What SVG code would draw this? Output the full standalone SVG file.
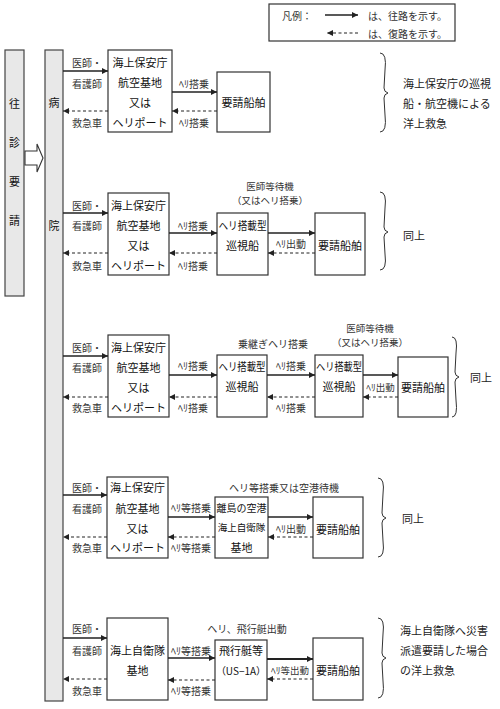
<svg xmlns="http://www.w3.org/2000/svg" width="500" height="709" viewBox="0 0 500 709">
<defs>
<marker id="ah" viewBox="0 0 10 10" refX="10" refY="5" markerWidth="8" markerHeight="6" orient="auto" markerUnits="userSpaceOnUse"><path d="M0,0 L10,5 L0,10 z" fill="#222"/></marker>
<style>
.box{fill:#fff;stroke:#333;stroke-width:1.2}
.bar{fill:#e8e8e8;stroke:#444;stroke-width:1.2}
text{font-family:"Noto Sans CJK JP","Noto Sans",sans-serif;fill:#111;dominant-baseline:central}
.t{font-size:11px;text-anchor:middle}
.l{font-size:10px;fill:#333}
.lc{font-size:10px;fill:#333;text-anchor:middle}
.w{font-size:9.5px}
.r{font-size:11px;fill:#222}
.go{stroke:#222;stroke-width:1.3;fill:none;marker-end:url(#ah)}
.back{stroke:#222;stroke-width:1.2;stroke-dasharray:3 2.5;fill:none;marker-end:url(#ah)}
.brace{stroke:#333;stroke-width:1;fill:none}
</style>
</defs>

<g id="legend">
<rect x="269" y="4" width="186" height="37" fill="#fff" stroke="#333" stroke-width="1.2"/>
<text class="l" x="282" y="15">凡例：</text>
<line class="go" x1="325" y1="15" x2="358" y2="15"/>
<text class="l" x="368" y="15">は、往路を示す。</text>
<line class="back" x1="358" y1="33" x2="327" y2="33"/>
<text class="l" x="368" y="33">は、復路を示す。</text>
</g>

<g id="request">
<rect class="bar" x="5" y="50" width="19" height="246"/>
<text class="t" x="14.5" y="103">往</text>
<text class="t" x="14.5" y="142">診</text>
<text class="t" x="14.5" y="181">要</text>
<text class="t" x="14.5" y="220">請</text>
</g>
<g id="request-arrow">
<path d="M25,151 H37 V144 L43,158 L37,172 V165 H25 Z" fill="#fff" stroke="#333" stroke-width="1.1"/>
</g>
<g id="hospital">
<rect class="bar" x="45" y="50" width="18" height="651"/>
<text class="t" x="54" y="102">病</text>
<text class="t" x="54" y="225">院</text>
</g>

<!-- Row 1 -->
<g id="r1-base">
<rect class="box" x="108" y="50" width="64" height="82"/>
<text class="t" x="140" y="62">海上保安庁</text>
<text class="t" x="140" y="82">航空基地</text>
<text class="t" x="140" y="102">又は</text>
<text class="t" x="140" y="122">ヘリポート</text>
</g>
<g id="r1-ship">
<rect class="box" x="217" y="72" width="53" height="60"/>
<text class="t" x="243.5" y="102">要請船舶</text>
</g>
<g id="r1-note">
<path class="brace" d="M380,53 Q387,53 385,70 L384,88 Q384,92 388,93 Q384,94 384,98 L385,115 Q387,132 380,132"/>
<text class="r" x="403" y="83">海上保安庁の巡視</text>
<text class="r" x="403" y="103">船・航空機による</text>
<text class="r" x="403" y="123">洋上救急</text>
</g>

<!-- Row 2 -->
<g id="r2-base">
<rect class="box" x="108" y="193" width="61" height="82"/>
<text class="t" x="138.5" y="205">海上保安庁</text>
<text class="t" x="138.5" y="225">航空基地</text>
<text class="t" x="138.5" y="245">又は</text>
<text class="t" x="138.5" y="265">ヘリポート</text>
</g>
<g id="r2-cutter">
<rect class="box" x="217" y="213" width="51" height="62"/>
<text class="t" x="242.5" y="225" textLength="48" lengthAdjust="spacingAndGlyphs">ヘリ搭載型</text>
<text class="t" x="242.5" y="245">巡視船</text>
</g>
<g id="r2-ship">
<rect class="box" x="315" y="213" width="50" height="62"/>
<text class="t" x="340" y="245">要請船舶</text>
</g>
<g id="r2-note">
<path class="brace" d="M380,192 Q387,192 385,208 L384,227 Q384,231 388,232 Q384,233 384,237 L385,254 Q387,270 380,270"/>
<text class="r" x="403" y="235">同上</text>
</g>

<!-- Row 3 -->
<g id="r3-base">
<rect class="box" x="108" y="335" width="61" height="82"/>
<text class="t" x="138.5" y="347">海上保安庁</text>
<text class="t" x="138.5" y="367">航空基地</text>
<text class="t" x="138.5" y="387">又は</text>
<text class="t" x="138.5" y="407">ヘリポート</text>
</g>
<g id="r3-cutter1">
<rect class="box" x="217" y="355" width="50" height="62"/>
<text class="t" x="242" y="366" textLength="47" lengthAdjust="spacingAndGlyphs">ヘリ搭載型</text>
<text class="t" x="242" y="386">巡視船</text>
</g>
<g id="r3-cutter2">
<rect class="box" x="315" y="355" width="48" height="62"/>
<text class="t" x="339" y="366" textLength="46" lengthAdjust="spacingAndGlyphs">ヘリ搭載型</text>
<text class="t" x="339" y="386">巡視船</text>
</g>
<g id="r3-ship">
<rect class="box" x="398" y="357" width="50" height="60"/>
<text class="t" x="423" y="387">要請船舶</text>
</g>
<g id="r3-note">
<path class="brace" d="M452,337 Q458,337 456,353 L455,372 Q455,376 459,377 Q455,378 455,382 L456,400 Q458,417 452,417"/>
<text class="r" x="470" y="377">同上</text>
</g>

<!-- Row 4 -->
<g id="r4-base">
<rect class="box" x="107" y="477" width="61" height="81"/>
<text class="t" x="137.5" y="487">海上保安庁</text>
<text class="t" x="137.5" y="508">航空基地</text>
<text class="t" x="137.5" y="528">又は</text>
<text class="t" x="137.5" y="547">ヘリポート</text>
</g>
<g id="r4-airport">
<rect class="box" x="215" y="497" width="53" height="61"/>
<text class="t" x="241.5" y="507" style="font-size:10px">離島の空港</text>
<text class="t" x="241.5" y="527" style="font-size:9.5px">海上自衛隊</text>
<text class="t" x="241.5" y="547">基地</text>
</g>
<g id="r4-ship">
<rect class="box" x="313" y="497" width="50" height="61"/>
<text class="t" x="338" y="529">要請船舶</text>
</g>
<g id="r4-note">
<path class="brace" d="M378,478 Q385,478 383,494 L382,513 Q382,517 386,518 Q382,519 382,523 L383,541 Q385,557 378,557"/>
<text class="r" x="402" y="518">同上</text>
</g>

<!-- Row 5 -->
<g id="r5-base">
<rect class="box" x="107" y="618" width="61" height="82"/>
<text class="t" x="137.5" y="650">海上自衛隊</text>
<text class="t" x="137.5" y="670">基地</text>
</g>
<g id="r5-flyingboat">
<rect class="box" x="215" y="640" width="52" height="60"/>
<text class="t" x="241" y="650">飛行艇等</text>
<text class="t" x="241" y="670" style="font-size:10px">（US−1A）</text>
</g>
<g id="r5-ship">
<rect class="box" x="313" y="638" width="50" height="62"/>
<text class="t" x="338" y="670">要請船舶</text>
</g>
<g id="r5-note">
<path class="brace" d="M378,618 Q385,618 383,634 L382,653 Q382,657 386,658 Q382,659 382,663 L383,681 Q385,698 378,698"/>
<text class="r" x="400" y="630">海上自衛隊へ災害</text>
<text class="r" x="400" y="650">派遣要請した場合</text>
<text class="r" x="400" y="670">の洋上救急</text>
</g>

<g id="connectors">
<!-- row 1 -->
<line class="go" x1="63" y1="71" x2="108" y2="71"/>
<line class="back" x1="108" y1="111" x2="63" y2="111"/>
<line class="go" x1="172" y1="92" x2="217" y2="92"/>
<line class="back" x1="217" y1="111" x2="172" y2="111"/>
<!-- row 2 -->
<line class="go" x1="63" y1="213" x2="108" y2="213"/>
<line class="back" x1="108" y1="253" x2="63" y2="253"/>
<line class="go" x1="169" y1="233" x2="217" y2="233"/>
<line class="back" x1="217" y1="253" x2="169" y2="253"/>
<line class="go" x1="268" y1="233" x2="315" y2="233"/>
<line class="back" x1="315" y1="253" x2="268" y2="253"/>
<!-- row 3 -->
<line class="go" x1="63" y1="356" x2="108" y2="356"/>
<line class="back" x1="108" y1="397" x2="63" y2="397"/>
<line class="go" x1="169" y1="375" x2="217" y2="375"/>
<line class="back" x1="217" y1="397" x2="169" y2="397"/>
<line class="go" x1="267" y1="375" x2="315" y2="375"/>
<line class="back" x1="315" y1="397" x2="267" y2="397"/>
<line class="go" x1="363" y1="375" x2="398" y2="375"/>
<line class="back" x1="398" y1="397" x2="363" y2="397"/>
<!-- row 4 -->
<line class="go" x1="63" y1="495" x2="107" y2="495"/>
<line class="back" x1="107" y1="537" x2="63" y2="537"/>
<line class="go" x1="168" y1="517" x2="215" y2="517"/>
<line class="back" x1="215" y1="537" x2="168" y2="537"/>
<line class="go" x1="268" y1="517" x2="313" y2="517"/>
<line class="back" x1="313" y1="537" x2="268" y2="537"/>
<!-- row 5 -->
<line class="go" x1="63" y1="638" x2="107" y2="638"/>
<line class="back" x1="107" y1="679" x2="63" y2="679"/>
<line class="go" x1="168" y1="658" x2="215" y2="658"/>
<line class="back" x1="215" y1="680" x2="168" y2="680"/>
<line class="go" x1="267" y1="659" x2="313" y2="659" style="stroke-width:2"/>
<line class="back" x1="313" y1="679" x2="267" y2="679"/>
</g>

<g id="labels">
<text class="l" x="72" y="62">医師・</text>
<text class="l" x="72" y="83">看護師</text>
<text class="l" x="72" y="122">救急車</text>
<text class="lc" x="194" y="83">ﾍﾘ搭乗</text>
<text class="lc" x="194" y="122">ﾍﾘ搭乗</text>

<text class="l" x="72" y="205">医師・</text>
<text class="l" x="72" y="225">看護師</text>
<text class="l" x="72" y="265">救急車</text>
<text class="lc" x="193" y="225">ﾍﾘ搭乗</text>
<text class="lc" x="193" y="265">ﾍﾘ搭乗</text>
<text class="lc w" x="270" y="186">医師等待機</text>
<text class="lc w" x="270" y="200">（又はヘリ搭乗）</text>
<text class="lc" x="291" y="243">ﾍﾘ出動</text>

<text class="l" x="72" y="347">医師・</text>
<text class="l" x="72" y="367">看護師</text>
<text class="l" x="72" y="407">救急車</text>
<text class="lc" x="193" y="365">ﾍﾘ搭乗</text>
<text class="lc" x="193" y="407">ﾍﾘ搭乗</text>
<text class="lc" x="273" y="343">乗継ぎヘリ搭乗</text>
<text class="lc" x="291" y="365">ﾍﾘ搭乗</text>
<text class="lc" x="291" y="407">ﾍﾘ搭乗</text>
<text class="lc w" x="370" y="328">医師等待機</text>
<text class="lc w" x="370" y="342">（又はヘリ搭乗）</text>
<text class="lc" x="380.5" y="387" style="font-size:9.5px">ﾍﾘ出動</text>

<text class="l" x="72" y="487">医師・</text>
<text class="l" x="72" y="508">看護師</text>
<text class="l" x="72" y="547">救急車</text>
<text class="lc" x="191" y="507">ﾍﾘ等搭乗</text>
<text class="lc" x="191" y="547">ﾍﾘ等搭乗</text>
<text class="lc" x="284" y="487">ヘリ等搭乗又は空港待機</text>
<text class="lc" x="291" y="528">ﾍﾘ出動</text>

<text class="l" x="72" y="628">医師・</text>
<text class="l" x="72" y="650">看護師</text>
<text class="l" x="72" y="690">救急車</text>
<text class="lc" x="191" y="650">ﾍﾘ等搭乗</text>
<text class="lc" x="191" y="690">ﾍﾘ等搭乗</text>
<text class="lc" x="247" y="628">ヘリ、飛行艇出動</text>
<text class="lc" x="290" y="670" style="font-size:9.5px">ﾍﾘ等出動</text>
</g>
</svg>
